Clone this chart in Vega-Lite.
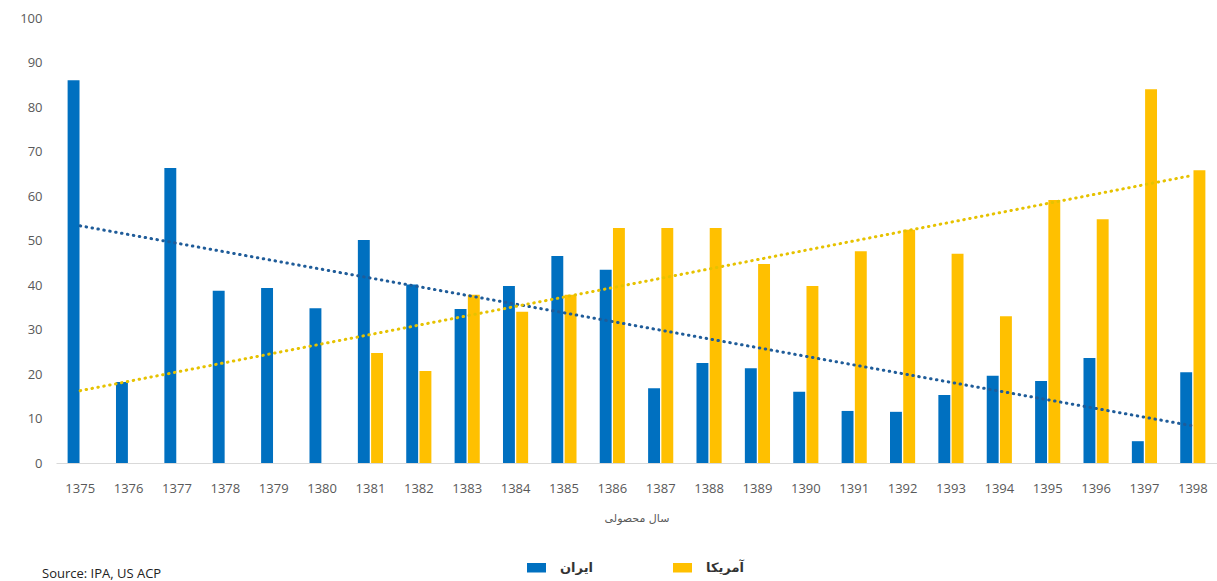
{
  "$schema": "https://vega.github.io/schema/vega-lite/v6.json",
  "width": 1161,
  "height": 445,
  "autosize": {"type": "none"},
  "padding": {"left": 56, "top": 18, "right": 0, "bottom": 118},
  "background": "white",
  "config": {"view": {"stroke": null}, "font": "Open Sans"},
  "title": {"text": "Source: IPA, US ACP", "orient": "bottom", "anchor": "start", "frame": "group", "fontSize": 13, "fontWeight": "normal", "color": "#222222", "font": "Open Sans", "dx": -14, "offset": -7},
  "data": {"values": [
    {"year": 1375, "country": "ایران", "value": 86},
    {"year": 1376, "country": "ایران", "value": 18.2},
    {"year": 1377, "country": "ایران", "value": 66.3},
    {"year": 1378, "country": "ایران", "value": 38.7},
    {"year": 1379, "country": "ایران", "value": 39.3},
    {"year": 1380, "country": "ایران", "value": 34.8},
    {"year": 1381, "country": "ایران", "value": 50.1},
    {"year": 1382, "country": "ایران", "value": 40.1},
    {"year": 1383, "country": "ایران", "value": 34.6},
    {"year": 1384, "country": "ایران", "value": 39.8},
    {"year": 1385, "country": "ایران", "value": 46.5},
    {"year": 1386, "country": "ایران", "value": 43.4},
    {"year": 1387, "country": "ایران", "value": 16.8},
    {"year": 1388, "country": "ایران", "value": 22.5},
    {"year": 1389, "country": "ایران", "value": 21.3},
    {"year": 1390, "country": "ایران", "value": 16},
    {"year": 1391, "country": "ایران", "value": 11.7},
    {"year": 1392, "country": "ایران", "value": 11.5},
    {"year": 1393, "country": "ایران", "value": 15.3},
    {"year": 1394, "country": "ایران", "value": 19.6},
    {"year": 1395, "country": "ایران", "value": 18.4},
    {"year": 1396, "country": "ایران", "value": 23.6},
    {"year": 1397, "country": "ایران", "value": 4.9},
    {"year": 1398, "country": "ایران", "value": 20.4},
    {"year": 1381, "country": "آمریکا", "value": 24.7},
    {"year": 1382, "country": "آمریکا", "value": 20.7},
    {"year": 1383, "country": "آمریکا", "value": 37.8},
    {"year": 1384, "country": "آمریکا", "value": 34},
    {"year": 1385, "country": "آمریکا", "value": 37.8},
    {"year": 1386, "country": "آمریکا", "value": 52.8},
    {"year": 1387, "country": "آمریکا", "value": 52.8},
    {"year": 1388, "country": "آمریکا", "value": 52.8},
    {"year": 1389, "country": "آمریکا", "value": 44.7},
    {"year": 1390, "country": "آمریکا", "value": 39.8},
    {"year": 1391, "country": "آمریکا", "value": 47.6},
    {"year": 1392, "country": "آمریکا", "value": 52.4},
    {"year": 1393, "country": "آمریکا", "value": 47},
    {"year": 1394, "country": "آمریکا", "value": 33},
    {"year": 1395, "country": "آمریکا", "value": 59.1},
    {"year": 1396, "country": "آمریکا", "value": 54.8},
    {"year": 1397, "country": "آمریکا", "value": 84},
    {"year": 1398, "country": "آمریکا", "value": 65.8}
  ]},
  "encoding": {
    "x": {
      "field": "year",
      "type": "ordinal",
      "scale": {"paddingInner": 0.48, "paddingOuter": 0.24},
      "axis": {
        "labelAngle": 0,
        "labelFont": "Open Sans",
        "labelFontSize": 13,
        "labelColor": "#595959",
        "labelPadding": 19,
        "ticks": false,
        "domainColor": "#d9d9d9",
        "domainWidth": 1,
        "title": "سال محصولی",
        "titleFont": "DejaVu Sans",
        "titleFontSize": 11,
        "titleFontWeight": "normal",
        "titleColor": "#595959",
        "titlePadding": 17
      }
    }
  },
  "layer": [
    {
      "mark": {"type": "bar"},
      "encoding": {
        "xOffset": {"field": "country", "type": "nominal", "sort": ["ایران", "آمریکا"], "scale": {"paddingInner": 0.1}},
        "y": {
          "field": "value",
          "type": "quantitative",
          "scale": {"domain": [0, 100]},
          "axis": {
            "values": [0, 10, 20, 30, 40, 50, 60, 70, 80, 90, 100],
            "grid": false,
            "domain": false,
            "ticks": false,
            "labelFont": "Open Sans",
            "labelFontSize": 13,
            "labelColor": "#595959",
            "labelPadding": 14,
            "title": null
          }
        },
        "color": {
          "field": "country",
          "type": "nominal",
          "scale": {"domain": ["ایران", "آمریکا"], "range": ["#0070C0", "#FFC000"]},
          "legend": {
            "title": null,
            "orient": "none",
            "legendX": 471,
            "legendY": 540,
            "direction": "horizontal",
            "symbolType": "M-1,-0.5H1V0.5H-1Z",
            "symbolSize": 361,
            "symbolStrokeWidth": 0,
            "labelFont": "DejaVu Sans",
            "labelFontSize": 13,
            "labelFontWeight": "bold",
            "labelColor": "#333333",
            "labelOffset": 14,
            "columnPadding": 80
          }
        }
      }
    },
    {
      "transform": [
        {"filter": "datum.country === 'ایران'"},
        {"regression": "value", "on": "year", "extent": [1375, 1398]}
      ],
      "mark": {"type": "line", "strokeDash": [0.5, 5.5], "strokeCap": "round", "strokeWidth": 3, "color": "#1F5C99"},
      "encoding": {"y": {"field": "value", "type": "quantitative"}}
    },
    {
      "transform": [
        {"filter": "datum.country === 'آمریکا'"},
        {"regression": "value", "on": "year", "extent": [1375, 1398]}
      ],
      "mark": {"type": "line", "strokeDash": [0.5, 5.5], "strokeCap": "round", "strokeWidth": 3, "color": "#E6C200"},
      "encoding": {"y": {"field": "value", "type": "quantitative"}}
    }
  ]
}
